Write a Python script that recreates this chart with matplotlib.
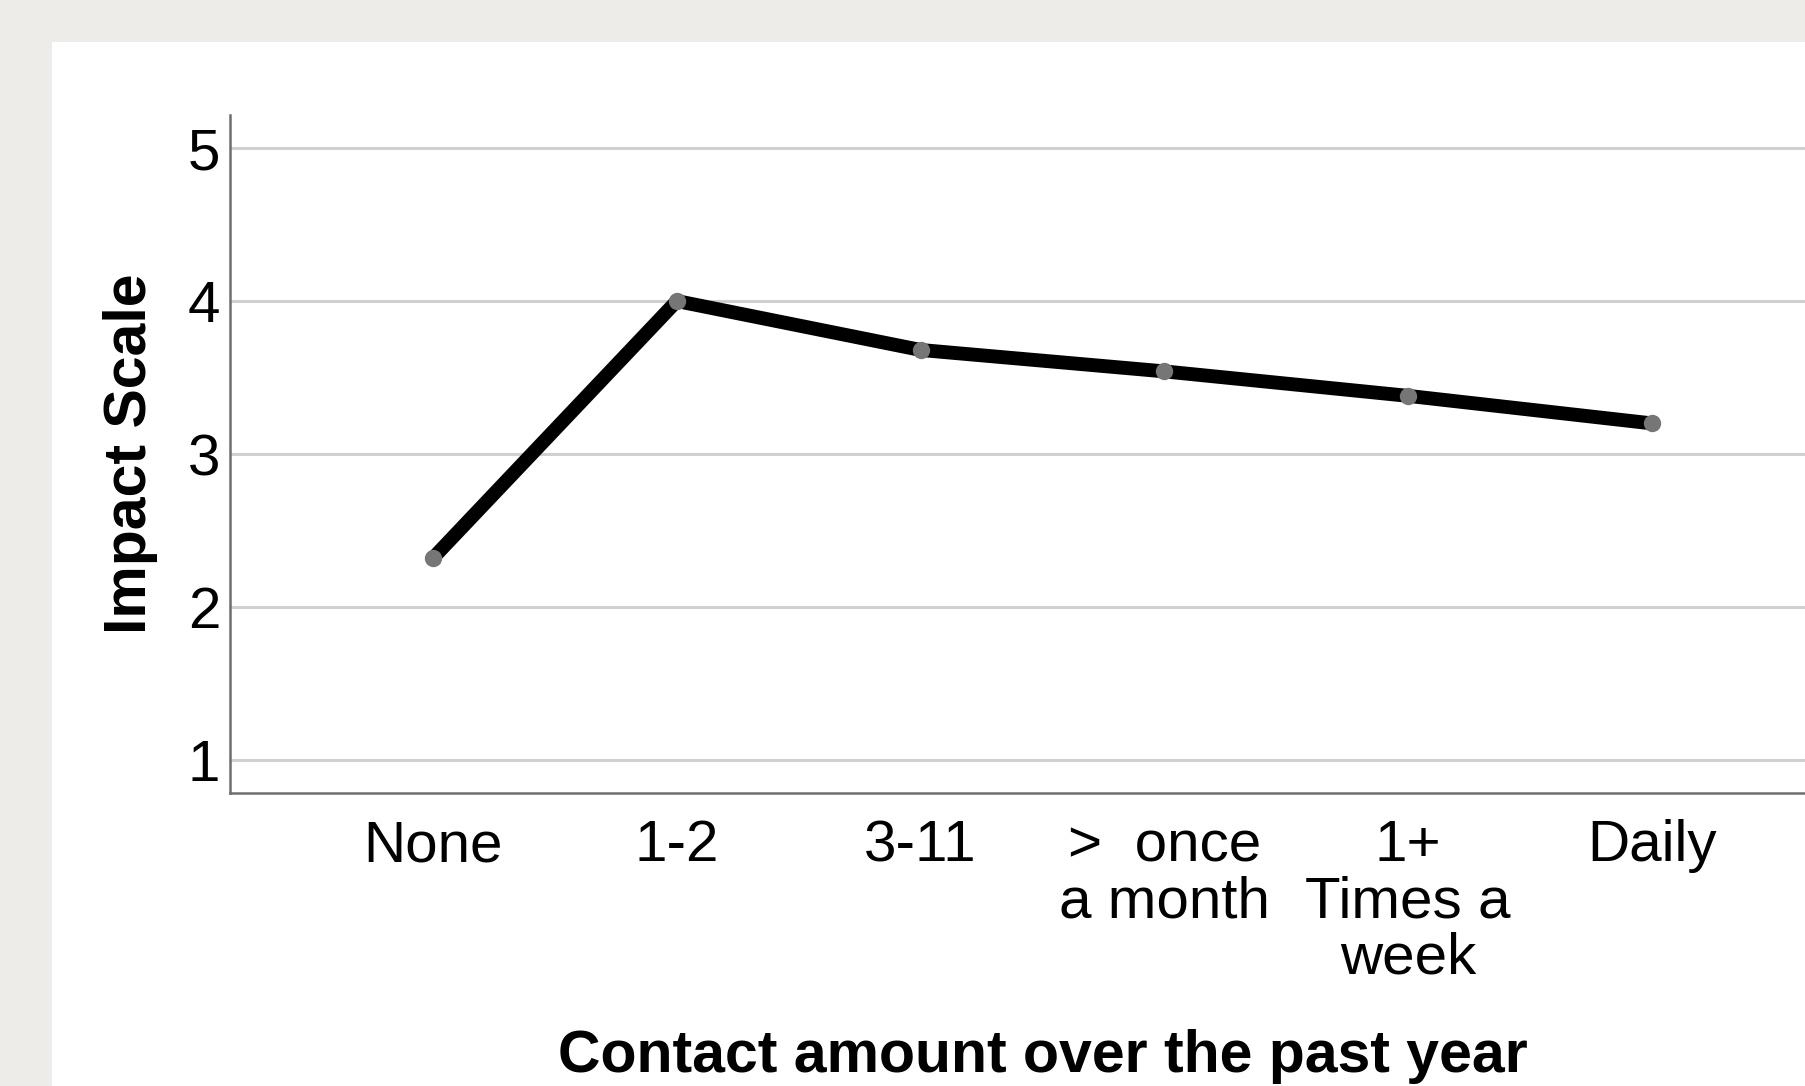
import matplotlib
matplotlib.use("Agg")
import matplotlib.pyplot as plt
from matplotlib.patches import Rectangle

categories = ["None", "1-2", "3-11", ">  once\na month", "1+\nTimes a\nweek", "Daily"]
impact_values = [2.32, 4.00, 3.68, 3.54, 3.38, 3.20]
y_ticks = [1, 2, 3, 4, 5]
x_label = "Contact amount over the past year"
y_label = "Impact Scale"

plt.rcParams['font.family'] = ['Liberation Sans', 'DejaVu Sans']

W, H = 1806, 1086
fig = plt.figure(figsize=(W / 100, H / 100), dpi=100)
fig.patch.set_facecolor("#edece8")
panel = Rectangle((52 / W, 0), 1 - 52 / W, 1 - 42 / H,
                  transform=fig.transFigure, facecolor="white",
                  edgecolor="none", zorder=-10)
fig.patches.append(panel)

left, right = 230, 1855
top, bottom = 115, 793
ax = fig.add_axes([left / W, (H - bottom) / H, (right - left) / W, (bottom - top) / H])
ax.set_zorder(5)
ax.set_facecolor("white")

x = list(range(len(categories)))
ax.plot(x, impact_values, color="black", linewidth=10, solid_capstyle="round",
        solid_joinstyle="round", zorder=3)
ax.plot(x, impact_values, linestyle="none", marker="o", markersize=12.5,
        markerfacecolor="#767676", markeredgecolor="none", zorder=4)

ax.set_xlim(-0.833, len(categories) - 1 + 0.833)
ax.set_ylim(0.784, 5.216)
ax.set_yticks(y_ticks)
ax.set_yticklabels([str(v) for v in y_ticks])
ax.set_xticks(x)
ax.set_xticklabels(categories, linespacing=1.05)
ax.tick_params(axis="both", length=0, labelsize=42, colors="black")
ax.tick_params(axis="y", pad=7)
ax.tick_params(axis="x", pad=19)

ax.yaxis.grid(True, color="#d0d0d0", linewidth=2.2)
ax.set_axisbelow(True)
for s in ["top", "right"]:
    ax.spines[s].set_visible(False)
for s in ["left", "bottom"]:
    ax.spines[s].set_color("#6e6e6e")
    ax.spines[s].set_linewidth(1.8)

ax.set_xlabel(x_label, fontsize=42.5, fontweight="bold")
ax.xaxis.set_label_coords(0.5, -0.389)
ax.xaxis.label.set_va("center")
ax.set_ylabel(y_label, fontsize=42.5, fontweight="bold")
ax.yaxis.set_label_coords(-0.0612, 0.5)
ax.yaxis.label.set_va("center")
ax.yaxis.label.set_ha("center")

fig.savefig("out.png", dpi=100, facecolor=fig.get_facecolor())
